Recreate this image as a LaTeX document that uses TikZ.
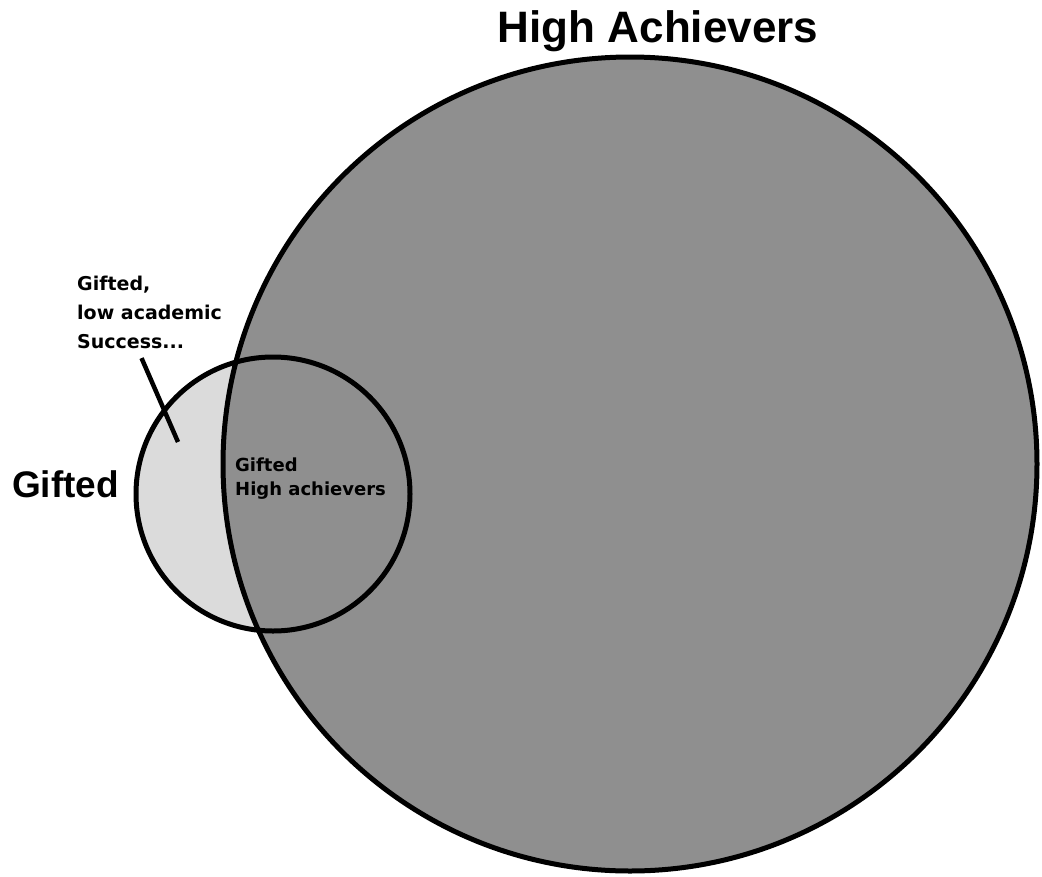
\documentclass[tikz,border=0pt]{standalone}
\usepackage{fontspec}
\setmainfont{Liberation Sans}
\newfontfamily\notefont{DejaVu Sans}
\usetikzlibrary{positioning}

\definecolor{lightset}{gray}{0.86}
\definecolor{darkset}{gray}{0.56}

\begin{document}
\begin{tikzpicture}[
    x=1pt, y=-1pt,
    set circle/.style={circle, inner sep=0pt, outer sep=0pt},
    set outline/.style={line width=5pt, draw=black},
    title label/.style={font=\bfseries\fontsize{44}{50}\selectfont, inner sep=0pt},
    side label/.style={font=\bfseries\fontsize{37}{42}\selectfont, inner sep=0pt},
    note label/.style={font=\notefont\bfseries\fontsize{19}{29}\selectfont, inner sep=0pt, align=left},
    inner label/.style={font=\notefont\bfseries\fontsize{18}{24}\selectfont, inner sep=0pt, align=left},
    pointer/.style={line width=4.5pt, draw=black}
]
\useasboundingbox (0,0) rectangle (1042,876);

% 1. Los dos conjuntos (primero el pequeño, luego el grande encima)
\node[set circle, fill=lightset, minimum size=274pt] (gifted) at (273,494) {};
\node[set circle, fill=darkset, set outline, minimum size=814pt] (achievers) at (630,464) {};
% contorno del conjunto pequeño por encima de todo
\draw[set outline] (gifted.center) circle[radius=137pt];

% 2. Títulos de los conjuntos
\node[title label, anchor=base] (achievers title) at (658,42) {High Achievers};
\node[side label, anchor=base west] (gifted title) at (12,497) {Gifted};

% 3. Etiquetas de las regiones
\node[note label, anchor=north west] (low note) at (77,276) {Gifted,\\low academic\\Success...};
\node[inner label, anchor=north west] (both note) at (235,458) {Gifted\\High achievers};

% 4. Señalador hacia la región "solo Gifted"
\coordinate[below left=9pt and 8pt of low note.south] (pointer start);
\coordinate (pointer tip) at (178,442);
\draw[pointer] (pointer start) -- (pointer tip);

\end{tikzpicture}
\end{document}
